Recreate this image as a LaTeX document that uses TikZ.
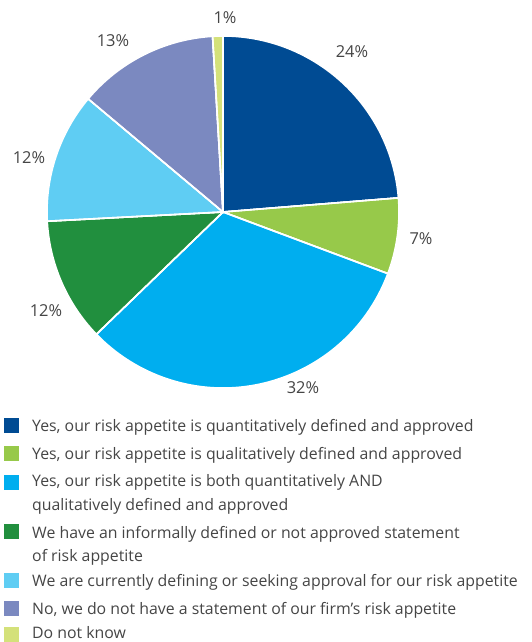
\documentclass[tikz,border=0pt]{standalone}
\usepackage{fontspec}
\setmainfont{Open Sans}
\definecolor{cA}{HTML}{004B93}
\definecolor{cB}{HTML}{97C94A}
\definecolor{cC}{HTML}{00AEEF}
\definecolor{cD}{HTML}{218F3E}
\definecolor{cE}{HTML}{5FCDF3}
\definecolor{cF}{HTML}{7B89C0}
\definecolor{cG}{HTML}{D4E17A}
\definecolor{txt}{HTML}{454545}
\tikzset{
  slice/.style={draw=white, line width=1.6bp, line join=miter},
  pct/.style={text=txt, font=\fontsize{16.5}{18}\selectfont, inner sep=0pt},
  legsq/.style={minimum width=15bp, minimum height=15bp, inner sep=0pt, anchor=north west},
  legtxt/.style={text=txt, font=\fontsize{15.9}{18}\selectfont, inner sep=0pt, anchor=base west}
}
\begin{document}
\begin{tikzpicture}[x=1bp,y=1bp]
\useasboundingbox (0,0) rectangle (532,642);
\coordinate (C) at (223,430);
\def\R{176}
\fill[cA,slice] (C) -- ++(90:\R) arc[start angle=90, end angle=4.6, radius=\R] -- cycle;
\fill[cB,slice] (C) -- ++(4.6:\R) arc[start angle=4.6, end angle=-20.5, radius=\R] -- cycle;
\fill[cC,slice] (C) -- ++(-20.5:\R) arc[start angle=-20.5, end angle=-136, radius=\R] -- cycle;
\fill[cD,slice] (C) -- ++(-136:\R) arc[start angle=-136, end angle=-177, radius=\R] -- cycle;
\fill[cE,slice] (C) -- ++(-177:\R) arc[start angle=-177, end angle=-220, radius=\R] -- cycle;
\fill[cF,slice] (C) -- ++(-220:\R) arc[start angle=-220, end angle=-266.6, radius=\R] -- cycle;
\fill[cG,slice] (C) -- ++(-266.6:\R) arc[start angle=-266.6, end angle=-270, radius=\R] -- cycle;
\draw[slice] (C) -- ++(90:\R) (C) -- ++(4.6:\R) (C) -- ++(-20.5:\R) (C) -- ++(-136:\R)
  (C) -- ++(-177:\R) (C) -- ++(-220:\R) (C) -- ++(-266.6:\R);
\node[pct] (p1) at (352,590) {24\%};
\node[pct] (p2) at (421,403) {7\%};
\node[pct] (p3) at (303,254) {32\%};
\node[pct] (p4) at (46,331) {12\%};
\node[pct] (p5) at (29,484) {12\%};
\node[pct] (p6) at (113,601) {13\%};
\node[pct] (p7) at (225,624) {1\%};
\node[legsq, fill=cA] (s1) at (4,224) {};
\node[legsq, fill=cB] (s2) at (4,196) {};
\node[legsq, fill=cC] (s3) at (4,167) {};
\node[legsq, fill=cD] (s4) at (4,118) {};
\node[legsq, fill=cE] (s5) at (4,69) {};
\node[legsq, fill=cF] (s6) at (4,41) {};
\node[legsq, fill=cG] (s7) at (4,15) {};
\node[legtxt] (t1) at (32,210) {Yes, our risk appetite is quantitatively defined and approved};
\node[legtxt] (t2) at (32,182) {Yes, our risk appetite is qualitatively defined and approved};
\node[legtxt] (t3a) at (32,155) {Yes, our risk appetite is both quantitatively AND};
\node[legtxt] (t3b) at (32,131) {qualitatively defined and approved};
\node[legtxt] (t4a) at (32,103) {We have an informally defined or not approved statement};
\node[legtxt] (t4b) at (32,80) {of risk appetite};
\node[legtxt] (t5) at (32,55) {We are currently defining or seeking approval for our risk appetite};
\node[legtxt] (t6) at (32,27) {No, we do not have a statement of our firm’s risk appetite};
\node[legtxt] (t7) at (32,3.5) {Do not know};
\end{tikzpicture}
\end{document}
